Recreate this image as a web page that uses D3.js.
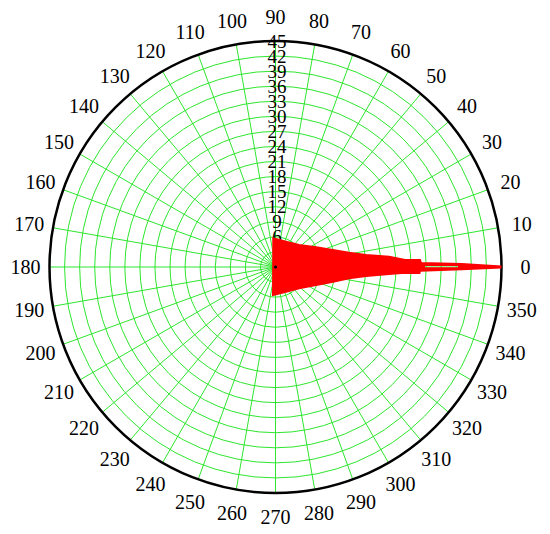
<!DOCTYPE html>
<html>
<head>
<meta charset="utf-8">
<script src="https://cdn.jsdelivr.net/npm/d3@7"></script>
<style>
  html, body { margin: 0; padding: 0; background: #fff; }
  svg { display: block; }
  text { font-family: "Liberation Serif", "DejaVu Serif", serif; fill: #000; }
</style>
</head>
<body>
<script>
// ---- data ----
const angleTicks = d3.range(0, 360, 10);               // 0,10,...,350 degrees
const radialTicks = [3, 6, 9, 12, 15, 18, 21, 24, 27, 30, 33, 36, 39, 42, 45];
const radialMax = 45;

// outline of the red region (angle in degrees, radius in data units)
const upperAngle = [94.4, 67.5, 43.1, 25.9, 16.6, 11.0, 7.55, 5.19, 3.09, 2.77, 1.57, 0.92, 0.13];
const upperR     = [5.73, 5.45, 6.41, 8.97, 11.88, 14.91, 18.18, 22.70, 25.82, 28.81, 28.98, 37.08, 44.8];
const lowerAngle = [-95.1, -67.0, -42.2, -24.0, -14.3, -8.74, -5.68, -3.53, -2.52, -2.40, -1.47, -0.71, -0.13];
const lowerR     = [5.60, 5.34, 6.32, 8.83, 11.82, 14.81, 18.11, 22.64, 25.81, 28.70, 28.78, 37.08, 44.8];
// uncovered gap inside the red region
const holeAngle = [0.77, 0.62, -0.41, -0.50];
const holeR     = [29.57, 36.54, 36.54, 29.57];

// ---- layout ----
const W = 550, H = 534;
const cx = 275.5, cy = 267, R = 226;

const svg = d3.select("body").append("svg").attr("width", W).attr("height", H);
const g = svg.append("g").attr("transform", `translate(${cx},${cy})`);

const r = d3.scaleLinear().domain([0, radialMax]).range([0, R]);
const toRad = d => d * Math.PI / 180;
const radial = d3.lineRadial()
  .angle(d => Math.PI / 2 - toRad(d[0]))
  .radius(d => r(d[1]));

const gridColor = "#2ee62e";

g.selectAll("circle.grid").data(radialTicks).join("circle")
  .attr("class", "grid")
  .attr("r", d => r(d))
  .attr("fill", "none")
  .attr("stroke", gridColor)
  .attr("stroke-width", 1);

g.selectAll("line.spoke").data(angleTicks).join("line")
  .attr("class", "spoke")
  .attr("x1", 0).attr("y1", 0)
  .attr("x2", d => r(radialMax) * Math.cos(toRad(d)))
  .attr("y2", d => -r(radialMax) * Math.sin(toRad(d)))
  .attr("stroke", gridColor)
  .attr("stroke-width", 1);

g.append("circle")
  .attr("r", r(radialMax))
  .attr("fill", "none")
  .attr("stroke", "#000")
  .attr("stroke-width", 2.5);

g.selectAll("text.rt").data(radialTicks).join("text")
  .attr("class", "rt")
  .attr("x", 1.5)
  .attr("y", d => -r(d))
  .attr("text-anchor", "middle")
  .attr("dominant-baseline", "central")
  .attr("font-size", 19)
  .text(d => d);

g.selectAll("text.at").data(angleTicks).join("text")
  .attr("class", "at")
  .attr("x", d => 250 * Math.cos(toRad(d)))
  .attr("y", d => -250 * Math.sin(toRad(d)))
  .attr("text-anchor", "middle")
  .attr("dominant-baseline", "central")
  .attr("font-size", 20)
  .text(d => d);

const lowerPts = lowerAngle.map((a, i) => [a, lowerR[i]]);
const upperPts = upperAngle.map((a, i) => [a, upperR[i]]).reverse();
const outline = lowerPts.concat(upperPts);
const holePts = holeAngle.map((a, i) => [a, holeR[i]]);

g.append("path")
  .attr("d", radial(outline) + "Z" + radial(holePts) + "Z")
  .attr("fill", "#ff0000")
  .attr("fill-rule", "evenodd")
  .attr("stroke", "#ff0000")
  .attr("stroke-width", 2)
  .attr("stroke-linejoin", "miter");

g.append("circle").attr("r", 1.5).attr("fill", "#000");
</script>
</body>
</html>
